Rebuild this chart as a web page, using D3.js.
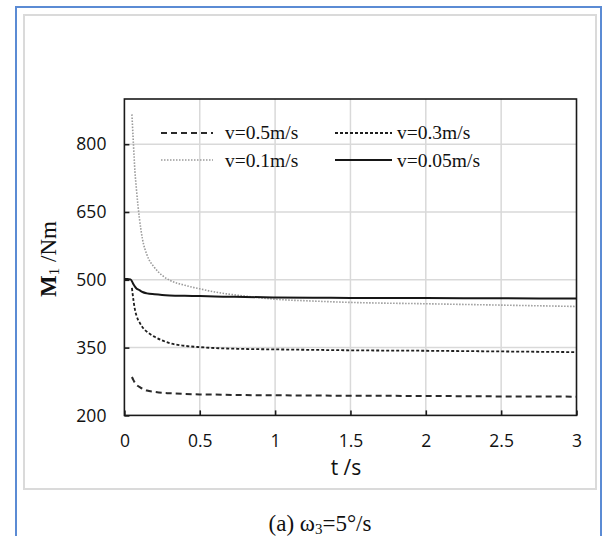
<!DOCTYPE html>
<html>
<head>
<meta charset="utf-8">
<script src="https://cdn.jsdelivr.net/npm/d3@7"></script>
<style>
  html, body { margin: 0; padding: 0; background: #fff; }
  svg { display: block; }
</style>
</head>
<body>
<svg id="chart" width="605" height="536"></svg>
<script>
// Time samples (s)
const tValues = [0, 0.02, 0.04, 0.05, 0.06, 0.07, 0.08, 0.09, 0.1, 0.12, 0.15, 0.2, 0.25, 0.3, 0.4, 0.5, 0.6, 0.8, 1.0, 1.25, 1.5, 2.0, 2.5, 3.0];

// Driving moment M1 (Nm) for each feed speed
const m1V05  = [null, null, null, 285, 278, 272, 268, 265, 263, 259, 255, 252, 250, 249, 247.5, 246.5, 246, 245, 244.5, 244, 243.5, 243, 242, 241.5];
const m1V03  = [null, null, null, 482, 455, 434, 421, 412, 406, 395, 385, 374, 366, 360, 354, 351, 349, 347, 346, 345, 344, 343, 341.5, 340];
const m1V01  = [null, null, null, 866, 800, 740, 700, 665, 635, 590, 555, 527, 510, 499, 488, 480, 473, 464, 457, 453, 450, 447, 444, 441];
const m1V005 = [502, 502, 501, 497, 490, 485, 481, 479, 477, 473, 470, 468, 466.5, 465.5, 464.5, 464, 463, 462, 461, 460.5, 460, 459.5, 459, 458.5];

const seriesNames = ["v=0.5m/s", "v=0.3m/s", "v=0.1m/s", "v=0.05m/s"];

// Axis ticks
const xTicks = [0, 0.5, 1, 1.5, 2, 2.5, 3];
const yTicks = [200, 350, 500, 650, 800];
const xTickLabels = ["0", "0.5", "1", "1.5", "2", "2.5", "3"];
const yTickLabels = ["200", "350", "500", "650", "800"];

const svg = d3.select("#chart");

// Outer frames
svg.append("rect")
  .attr("x", 16).attr("y", 7).attr("width", 585).attr("height", 540)
  .attr("fill", "none").attr("stroke", "#5b8bd4").attr("stroke-width", 2);
svg.append("rect")
  .attr("x", 24).attr("y", 15).attr("width", 572).attr("height", 474)
  .attr("fill", "none").attr("stroke", "#dadada").attr("stroke-width", 2);

const plot = { left: 124.4, right: 576.5, top: 99, bottom: 415.4 };

const x = d3.scaleLinear().domain([0, 3]).range([plot.left, plot.right]);
const y = d3.scaleLinear().domain([200, 900]).range([plot.bottom, plot.top]);

// Gridlines
const grid = svg.append("g").attr("stroke", "#d9d9d9").attr("stroke-width", 1.5);
grid.selectAll("line.gx").data(xTicks.slice(1, -1)).join("line")
  .attr("x1", d => x(d)).attr("x2", d => x(d))
  .attr("y1", plot.top).attr("y2", plot.bottom);
grid.selectAll("line.gy").data(yTicks.slice(1)).join("line")
  .attr("x1", plot.left).attr("x2", plot.right)
  .attr("y1", d => y(d)).attr("y2", d => y(d));

// Series lines
const pts = vals => tValues.map((t, i) => ({ t, v: vals[i] }));
const line = d3.line()
  .defined(d => d.v != null)
  .x(d => x(d.t)).y(d => y(d.v))
  .curve(d3.curveMonotoneX);

const styles = [
  { vals: m1V05,  stroke: "#2a2a2a", width: 2,   dash: "6,4" },
  { vals: m1V03,  stroke: "#1e1e1e", width: 1.8, dash: "3,2" },
  { vals: m1V01,  stroke: "#9a9a9a", width: 1.6, dash: "1.5,1.5" },
  { vals: m1V005, stroke: "#161616", width: 2,   dash: null }
];

const series = svg.append("g").attr("fill", "none");
styles.forEach(s => {
  series.append("path")
    .attr("d", line(pts(s.vals)))
    .attr("stroke", s.stroke)
    .attr("stroke-width", s.width)
    .attr("stroke-dasharray", s.dash);
});

// Plot frame
svg.append("rect")
  .attr("x", plot.left).attr("y", plot.top)
  .attr("width", plot.right - plot.left).attr("height", plot.bottom - plot.top)
  .attr("fill", "none").attr("stroke", "#1a1a1a").attr("stroke-width", 1.6);

// Axes with inward ticks
const tickFont = "'Open Sans', 'Noto Sans', sans-serif";
const xAxis = svg.append("g")
  .attr("transform", `translate(0,${plot.bottom})`)
  .call(d3.axisBottom(x).tickValues(xTicks)
    .tickFormat((d, i) => xTickLabels[i])
    .tickSize(-5).tickPadding(19));
const yAxis = svg.append("g")
  .attr("transform", `translate(${plot.left},0)`)
  .call(d3.axisLeft(y).tickValues(yTicks)
    .tickFormat((d, i) => yTickLabels[i])
    .tickSize(-5).tickPadding(18));
[xAxis, yAxis].forEach(g => {
  g.select(".domain").remove();
  g.selectAll(".tick line").attr("stroke", "#1a1a1a").attr("stroke-width", 1.6);
  g.selectAll(".tick text")
    .attr("fill", "#111")
    .style("font-family", tickFont)
    .style("font-size", "17.5px");
});

// Axis titles
svg.append("text")
  .attr("x", 346).attr("y", 475)
  .attr("text-anchor", "middle")
  .attr("fill", "#111")
  .style("font-family", tickFont)
  .style("font-size", "21px")
  .text("t /s");

const serif = "'Liberation Serif', 'Times New Roman', serif";
const yTitle = svg.append("text")
  .attr("transform", "translate(56,259) rotate(-90)")
  .attr("text-anchor", "middle")
  .attr("fill", "#111")
  .style("font-family", serif)
  .style("font-size", "23px");
yTitle.append("tspan").attr("font-weight", "bold").text("M");
yTitle.append("tspan").attr("font-size", "15px").attr("dy", 3).text("1");
yTitle.append("tspan").attr("dy", -3).text("  /Nm");

// Legend
const legendPos = [
  { x0: 161, x1: 213, tx: 225, ly: 133, ty: 139 },
  { x0: 335, x1: 392, tx: 397, ly: 133, ty: 139 },
  { x0: 161, x1: 213, tx: 225, ly: 160, ty: 167 },
  { x0: 335, x1: 392, tx: 397, ly: 160, ty: 167 }
];
const legend = svg.append("g");
seriesNames.forEach((name, i) => {
  const p = legendPos[i], s = styles[i];
  legend.append("line")
    .attr("x1", p.x0).attr("x2", p.x1).attr("y1", p.ly).attr("y2", p.ly)
    .attr("stroke", s.stroke).attr("stroke-width", s.width)
    .attr("stroke-dasharray", s.dash);
  legend.append("text")
    .attr("x", p.tx).attr("y", p.ty)
    .attr("fill", "#111")
    .style("font-family", serif)
    .style("font-size", "19.5px")
    .text(name);
});

// Caption
const cap = svg.append("text")
  .attr("x", 320).attr("y", 531)
  .attr("text-anchor", "middle")
  .attr("fill", "#111")
  .style("font-family", serif)
  .style("font-size", "23px");
cap.append("tspan").text("(a) ω");
cap.append("tspan").attr("font-size", "15px").attr("dy", 3).text("3");
cap.append("tspan").attr("dy", -3).text("=5°/s");
</script>
</body>
</html>
